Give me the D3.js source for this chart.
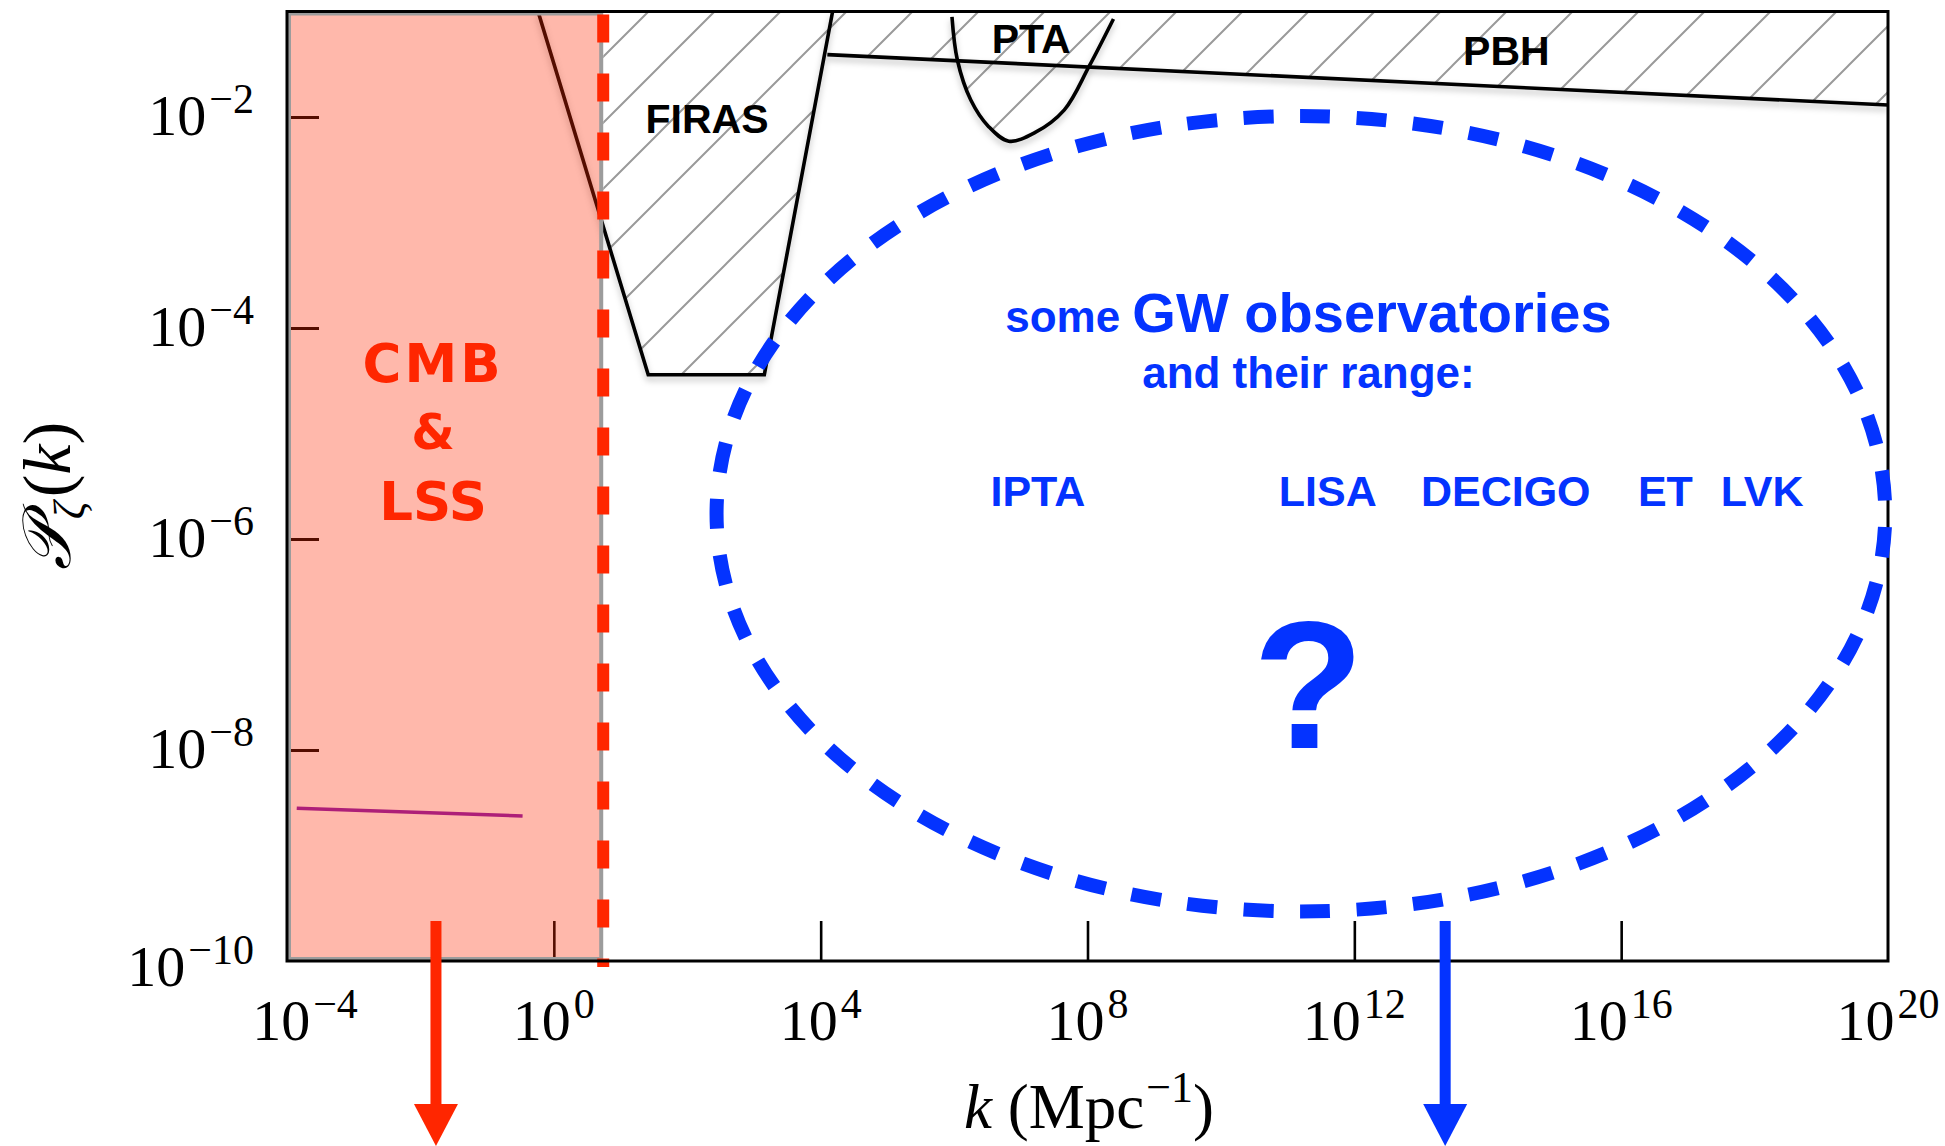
<!DOCTYPE html>
<html>
<head>
<meta charset="utf-8">
<script src="https://cdn.jsdelivr.net/npm/d3@7"></script>
<style>
  body { margin: 0; background: #fff; }
  svg { display: block; }
</style>
</head>
<body>
<div id="chart"></div>
<script>
// ---- values ----
var xTicks = [1e-4, 1e0, 1e4, 1e8, 1e12, 1e16, 1e20];
var yTicks = [1e-2, 1e-4, 1e-6, 1e-8, 1e-10];

// measured CMB amplitude and edge of the CMB & LSS window
var cmbK = [1.4e-4, 0.34];
var cmbP = [2.8e-9, 2.37e-9];
var cmbEdgeK = 5.5;
var cmbText = ["CMB", "&", "LSS"];
var cmbTextK = 0.0155;
var cmbTextP = [3.1e-5, 7.1e-6, 1.51e-6];

// excluded regions
var firasK = [0.58, 26, 1430, 15100];
var firasP = [1e-1, 3.6e-5, 3.6e-5, 1e-1];
var ptaK = [9.3e5, 1.12e6, 1.78e6, 3.3e6, 6.6e6, 1.62e7, 4.5e7, 1.05e8, 2.45e8];
var ptaP = [0.089, 0.0347, 0.0145, 0.0081, 0.0059, 0.0071, 0.0117, 0.030, 0.085];
var pbhK = [1.26e4, 1e20];
var pbhP = [0.039, 0.013];

var boundNames = ["FIRAS", "PTA", "PBH"];
var boundLabelK = [198, 1.43e7, 1.9e14];
var boundLabelP = [7.0e-3, 0.0405, 0.0311];

// GW observatories
var gwNames = ["IPTA", "LISA", "DECIGO", "ET", "LVK"];
var gwK = [1.8e7, 4e11, 1.86e14, 4.6e16, 1.3e18];
var gwLabelP = 2.05e-6;
var gwBoxK = [275, 9.1e19];
var gwBoxP = [2.95e-10, 1.02e-2];
var gwTextK = 2.05e11;
var gwTextP = [9.2e-5, 2.7e-5, 1.04e-8];

var arrowK = [0.0171, 2.3e13];
var arrowTopP = 2.4e-10;

// ---- drawing ----
var W = 1945, H = 1146;
var red = "#ff2600", blue = "#0433ff";
var serif = "'Liberation Serif', 'DejaVu Serif', serif";
var sans = "'Liberation Sans', Arial, sans-serif";

var x = d3.scaleLog().domain([1e-4, 1e20]).range([287, 1888]);
var y = d3.scaleLog().domain([1e-10, 1e-1]).range([961, 11.5]);
var x0 = x.range()[0], x1 = x.range()[1], yB = y.range()[0], yT = y.range()[1];

var svg = d3.select("#chart").append("svg")
  .attr("width", W).attr("height", H);

var defs = svg.append("defs");

var pat = defs.append("pattern")
  .attr("id", "hatch")
  .attr("patternUnits", "userSpaceOnUse")
  .attr("width", 66).attr("height", 66);
pat.append("path")
  .attr("d", "M0,66 L66,0 M-10,10 L10,-10 M56,76 L76,56")
  .attr("stroke", "#9a9a9a").attr("stroke-width", 2);

var shadow = defs.append("filter").attr("id", "shadow")
  .attr("x", "-10%").attr("y", "-10%").attr("width", "120%").attr("height", "130%");
shadow.append("feDropShadow")
  .attr("dx", 0).attr("dy", 4).attr("stdDeviation", 3)
  .attr("flood-color", "#000").attr("flood-opacity", 0.25);

var firas = d3.zip(firasK, firasP);
var pta = d3.zip(ptaK, ptaP);
var pbh = d3.zip(pbhK, pbhP);

var area = d3.area()
  .x(d => x(d[0])).y0(yT).y1(d => y(d[1]));

var excl = defs.append("clipPath").attr("id", "excl");
excl.append("path").attr("d", area(firas));
excl.append("path").attr("d", area.curve(d3.curveCatmullRom)(pta));
excl.append("path").attr("d", area.curve(d3.curveLinear)(pbh));

defs.append("clipPath").attr("id", "rightOfCmb")
  .append("rect")
  .attr("x", x(cmbEdgeK)).attr("y", yT)
  .attr("width", x1 - x(cmbEdgeK)).attr("height", yB - yT);

defs.append("clipPath").attr("id", "plotArea")
  .append("rect")
  .attr("x", x0).attr("y", yT)
  .attr("width", x1 - x0).attr("height", yB - yT);

// hatching of excluded regions
svg.append("g")
  .attr("clip-path", "url(#rightOfCmb)")
  .append("rect")
  .attr("clip-path", "url(#excl)")
  .attr("x", x0).attr("y", yT)
  .attr("width", x1 - x0).attr("height", yB - yT)
  .attr("fill", "url(#hatch)");

// bound lines
var line = d3.line().x(d => x(d[0])).y(d => y(d[1]));
var bounds = svg.append("g").attr("clip-path", "url(#plotArea)")
  .attr("fill", "none").attr("stroke", "#000").attr("stroke-width", 3.6)
  .attr("filter", "url(#shadow)");
bounds.append("path").attr("d", line(firas));
bounds.append("path").attr("d", line.curve(d3.curveCatmullRom)(pta));
bounds.append("path").attr("d", line.curve(d3.curveLinear)(pbh));

// axes ticks (inward)
var xAxis = d3.axisBottom(x).tickValues(xTicks.slice(1, -1)).tickSizeInner(-40).tickSizeOuter(0).tickFormat("");
var yAxis = d3.axisLeft(y).tickValues(yTicks.slice(0, -1)).tickSizeInner(-32).tickSizeOuter(0).tickFormat("");

svg.append("g").attr("transform", `translate(0, ${yB})`).call(xAxis)
  .call(g => g.select(".domain").remove())
  .selectAll("line").attr("stroke", "#000").attr("stroke-width", 2.6);
svg.append("g").attr("transform", `translate(${x0}, 0)`).call(yAxis)
  .call(g => g.select(".domain").remove())
  .selectAll("line").attr("stroke", "#000").attr("stroke-width", 3);

// CMB & LSS window
svg.append("rect")
  .attr("x", x0 + 2).attr("y", yT + 2)
  .attr("width", x(cmbEdgeK) - x0 - 4).attr("height", yB - yT - 4)
  .attr("fill", red).attr("fill-opacity", 0.33)
  .attr("stroke", "#9c9c9c").attr("stroke-width", 4);

svg.append("line")
  .attr("x1", x(cmbEdgeK)).attr("x2", x(cmbEdgeK))
  .attr("y1", yT + 3).attr("y2", yB + 6)
  .attr("stroke", red).attr("stroke-width", 12)
  .attr("stroke-dasharray", "28,31");

svg.append("path")
  .attr("d", line(d3.zip(cmbK, cmbP)))
  .attr("fill", "none").attr("stroke", "#ad1f78").attr("stroke-width", 3.5);

// frame
svg.append("rect")
  .attr("x", x0).attr("y", yT)
  .attr("width", x1 - x0).attr("height", yB - yT)
  .attr("fill", "none").attr("stroke", "#000").attr("stroke-width", 3);

// tick labels
function sup(sel, e, bigSize, smallSize) {
  sel.append("tspan").attr("font-size", bigSize).text("10");
  sel.append("tspan").attr("font-size", smallSize).attr("dy", -22).attr("dx", 3)
    .text(e < 0 ? "\u2212" + (-e) : String(e));
}

svg.append("g").selectAll("text")
  .data(xTicks).enter()
  .append("text")
  .attr("x", (d, i) => x(d) + (i === 0 ? 18 : 0)).attr("y", yB + 79)
  .attr("text-anchor", "middle")
  .attr("font-family", serif).attr("fill", "#000")
  .each(function(d) { sup(d3.select(this), Math.round(Math.log10(d)), 58, 42); });

svg.append("g").selectAll("text")
  .data(yTicks).enter()
  .append("text")
  .attr("x", x0 - 33)
  .attr("y", d => y(d) + (d === 1e-10 ? 25 : 18))
  .attr("text-anchor", "end")
  .attr("font-family", serif).attr("fill", "#000")
  .each(function(d) { sup(d3.select(this), Math.round(Math.log10(d)), 58, 42); });

// axis titles
var xt = svg.append("text")
  .attr("x", 1089).attr("y", 1128)
  .attr("text-anchor", "middle")
  .attr("font-family", serif).attr("font-size", 63);
xt.append("tspan").attr("font-style", "italic").text("k");
xt.append("tspan").text(" (Mpc");
xt.append("tspan").attr("font-size", 44).attr("dy", -26).attr("dx", 2).text("\u22121");
xt.append("tspan").attr("dy", 26).text(")");

var yt = svg.append("text")
  .attr("transform", "translate(70, 496) rotate(-90)")
  .attr("text-anchor", "middle")
  .attr("font-family", serif).attr("font-size", 68);
yt.append("tspan").attr("font-style", "italic").text("\ud835\udcab");
yt.append("tspan").attr("font-size", 44).attr("font-style", "italic").attr("dy", 14).attr("dx", 2).text("\u03b6");
yt.append("tspan").attr("dy", -14).attr("dx", 4).text("(");
yt.append("tspan").attr("font-style", "italic").text("k");
yt.append("tspan").text(")");

// bound labels
svg.append("g").selectAll("text")
  .data(boundNames).enter()
  .append("text")
  .attr("x", (d, i) => x(boundLabelK[i]))
  .attr("y", (d, i) => y(boundLabelP[i]))
  .attr("text-anchor", "middle")
  .attr("font-family", sans).attr("font-weight", "bold").attr("font-size", 41)
  .attr("fill", "#000")
  .text(d => d);

// CMB & LSS label
svg.append("g").selectAll("text")
  .data(cmbText).enter()
  .append("text")
  .attr("x", x(cmbTextK))
  .attr("y", (d, i) => y(cmbTextP[i]))
  .attr("text-anchor", "middle")
  .attr("font-family", "'DejaVu Sans', sans-serif").attr("font-weight", "bold")
  .attr("font-size", (d, i) => i === 1 ? 50 : 53)
  .attr("letter-spacing", (d, i) => i === 0 ? 3 : 0)
  .attr("fill", red)
  .text(d => d);

// GW ellipse
var ex0 = x(gwBoxK[0]), ex1 = x(gwBoxK[1]);
var ey0 = y(gwBoxP[1]), ey1 = y(gwBoxP[0]);
var ell = svg.append("ellipse")
  .attr("cx", (ex0 + ex1) / 2).attr("cy", (ey0 + ey1) / 2)
  .attr("rx", (ex1 - ex0) / 2).attr("ry", (ey1 - ey0) / 2)
  .attr("fill", "none").attr("stroke", blue).attr("stroke-width", 14);
var len = ell.node().getTotalLength();
var n = Math.round(len / 57), cyc = len / n;
ell.attr("stroke-dasharray", (cyc * 0.53) + "," + (cyc * 0.47))
  .attr("stroke-dashoffset", cyc * 0.53 + cyc * 0.235);

var gt = svg.append("text")
  .attr("x", x(gwTextK)).attr("y", y(gwTextP[0]))
  .attr("text-anchor", "middle")
  .attr("font-family", sans).attr("font-weight", "bold").attr("fill", blue);
gt.append("tspan").attr("font-size", 44).text("some ");
gt.append("tspan").attr("font-size", 56).text("GW observatories");

svg.append("text")
  .attr("x", x(gwTextK)).attr("y", y(gwTextP[1]))
  .attr("text-anchor", "middle")
  .attr("font-family", sans).attr("font-weight", "bold").attr("font-size", 44)
  .attr("fill", blue)
  .text("and their range:");

svg.append("g").selectAll("text")
  .data(gwNames).enter()
  .append("text")
  .attr("x", (d, i) => x(gwK[i])).attr("y", y(gwLabelP))
  .attr("text-anchor", "middle")
  .attr("font-family", sans).attr("font-weight", "bold").attr("font-size", 43)
  .attr("fill", blue)
  .text(d => d);

svg.append("text")
  .attr("x", x(gwTextK)).attr("y", y(gwTextP[2]))
  .attr("text-anchor", "middle")
  .attr("font-family", sans).attr("font-weight", "bold").attr("font-size", 182)
  .attr("fill", blue)
  .text("?");

// arrows pointing down out of the plot
var arrowColors = [red, blue];
var arrows = svg.append("g").selectAll("g")
  .data(arrowK).enter()
  .append("g");
arrows.append("line")
  .attr("x1", d => x(d)).attr("x2", d => x(d))
  .attr("y1", y(arrowTopP)).attr("y2", H - 40)
  .attr("stroke", (d, i) => arrowColors[i]).attr("stroke-width", 11);
arrows.append("path")
  .attr("d", d => `M${x(d) - 22},${H - 42} L${x(d) + 22},${H - 42} L${x(d)},${H} Z`)
  .attr("fill", (d, i) => arrowColors[i]);
</script>
</body>
</html>
